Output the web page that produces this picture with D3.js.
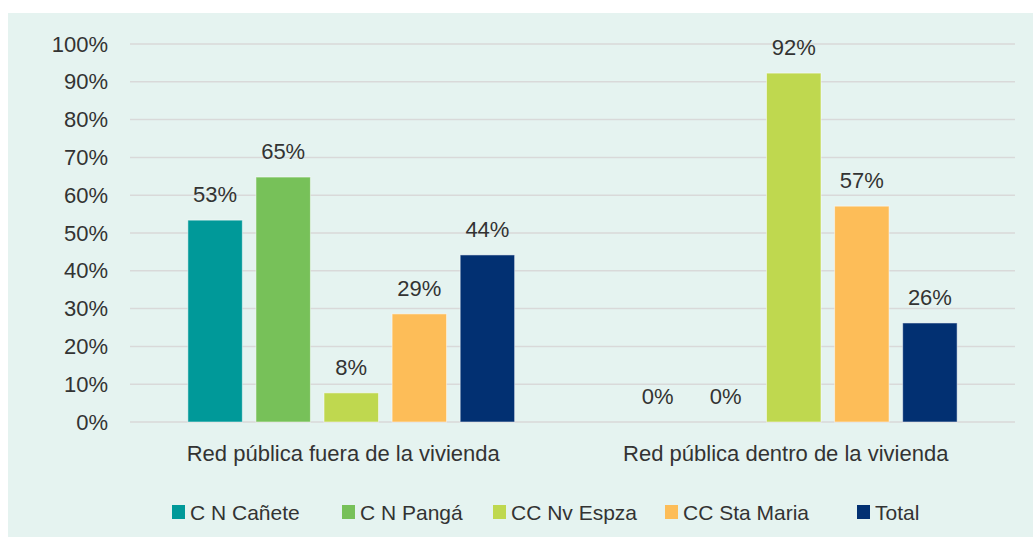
<!DOCTYPE html>
<html>
<head>
<meta charset="utf-8">
<script src="https://cdn.jsdelivr.net/npm/d3@7"></script>
<style>
  body { margin: 0; background: #fff; }
  text { font-family: "Liberation Sans", Arial, sans-serif; fill: #333; }
</style>
</head>
<body>
<script>
// data
var categories = ["Red pública fuera de la vivienda", "Red pública dentro de la vivienda"];
var seriesNames = ["C N Cañete", "C N Pangá", "CC Nv Espza", "CC Sta Maria", "Total"];
var seriesColors = ["#009999", "#77c159", "#bfd84f", "#fdbd58", "#023072"];
var fueraValues = [0.534, 0.648, 0.077, 0.286, 0.442];
var dentroValues = [0, 0, 0.923, 0.571, 0.262];
var yTicks = [0, 0.1, 0.2, 0.3, 0.4, 0.5, 0.6, 0.7, 0.8, 0.9, 1.0];

var values = [fueraValues, dentroValues];

var width = 1033, height = 537;

var svg = d3.select("body")
    .append("svg")
    .attr("width", width)
    .attr("height", height);

// panel background
svg.append("rect")
    .attr("x", 8)
    .attr("y", 13)
    .attr("width", width - 8)
    .attr("height", height - 13)
    .attr("fill", "#e5f3f0");

var x0 = d3.scaleBand()
    .domain(categories)
    .range([130, 1015]);

var x1 = d3.scaleBand()
    .domain(seriesNames)
    .range([0, x0.bandwidth()])
    .paddingInner(0.2)
    .paddingOuter(0.85);

var y = d3.scaleLinear()
    .domain([0, 1])
    .range([422, 44]);

// gridlines
svg.append("g")
    .selectAll("line")
    .data(yTicks)
    .enter()
    .append("line")
    .attr("x1", 130)
    .attr("x2", 1015)
    .attr("y1", function(d){ return y(d); })
    .attr("y2", function(d){ return y(d); })
    .attr("stroke", "#d9d9d9")
    .attr("stroke-width", 1.5);

// y axis labels
var yAxis = d3.axisLeft(y)
    .tickValues(yTicks)
    .tickFormat(d3.format(".0%"))
    .tickSize(0)
    .tickPadding(0);

var yg = svg.append("g")
    .attr("transform", "translate(108,0)")
    .call(yAxis);
yg.select(".domain").remove();
yg.selectAll("text")
    .style("font-size", "22px")
    .style("font-family", "Liberation Sans, Arial, sans-serif")
    .attr("fill", "#333");

// bars
var groups = svg.append("g")
    .selectAll("g")
    .data(categories)
    .enter()
    .append("g")
    .attr("transform", function(d){ return "translate(" + x0(d) + ",0)"; });

groups.selectAll("rect")
    .data(function(d, i){
        return values[i].map(function(v, j){ return {name: seriesNames[j], value: v, color: seriesColors[j]}; });
    })
    .enter()
    .append("rect")
    .attr("x", function(d){ return x1(d.name); })
    .attr("y", function(d){ return y(d.value); })
    .attr("width", x1.bandwidth())
    .attr("height", function(d){ return y(0) - y(d.value); })
    .attr("fill", function(d){ return d.color; })
    .attr("stroke", function(d){ return d.value > 0 ? "rgba(255,255,255,0.5)" : "none"; })
    .attr("stroke-width", 1);

// value labels
groups.selectAll("text.val")
    .data(function(d, i){
        return values[i].map(function(v, j){ return {name: seriesNames[j], value: v}; });
    })
    .enter()
    .append("text")
    .attr("class", "val")
    .attr("x", function(d){ return x1(d.name) + x1.bandwidth() / 2; })
    .attr("y", function(d){ return y(d.value) - 18; })
    .attr("text-anchor", "middle")
    .style("font-size", "22px")
    .text(function(d){ return d3.format(".0%")(d.value); });

// category labels
var xAxis = d3.axisBottom(x0).tickSize(0).tickPadding(0);
var xg = svg.append("g")
    .attr("transform", "translate(-8,445)")
    .call(xAxis);
xg.select(".domain").remove();
xg.selectAll("text")
    .style("font-size", "22px")
    .style("font-family", "Liberation Sans, Arial, sans-serif")
    .attr("fill", "#333");

// legend
var legendX = [172, 342, 493, 665, 857];
var legend = svg.append("g")
    .selectAll("g")
    .data(seriesNames)
    .enter()
    .append("g")
    .attr("transform", function(d, i){ return "translate(" + legendX[i] + ",505)"; });

legend.append("rect")
    .attr("width", 13)
    .attr("height", 14)
    .attr("fill", function(d, i){ return seriesColors[i]; });

legend.append("text")
    .attr("x", 18)
    .attr("y", 15)
    .style("font-size", "21px")
    .text(function(d){ return d; });
</script>
</body>
</html>
